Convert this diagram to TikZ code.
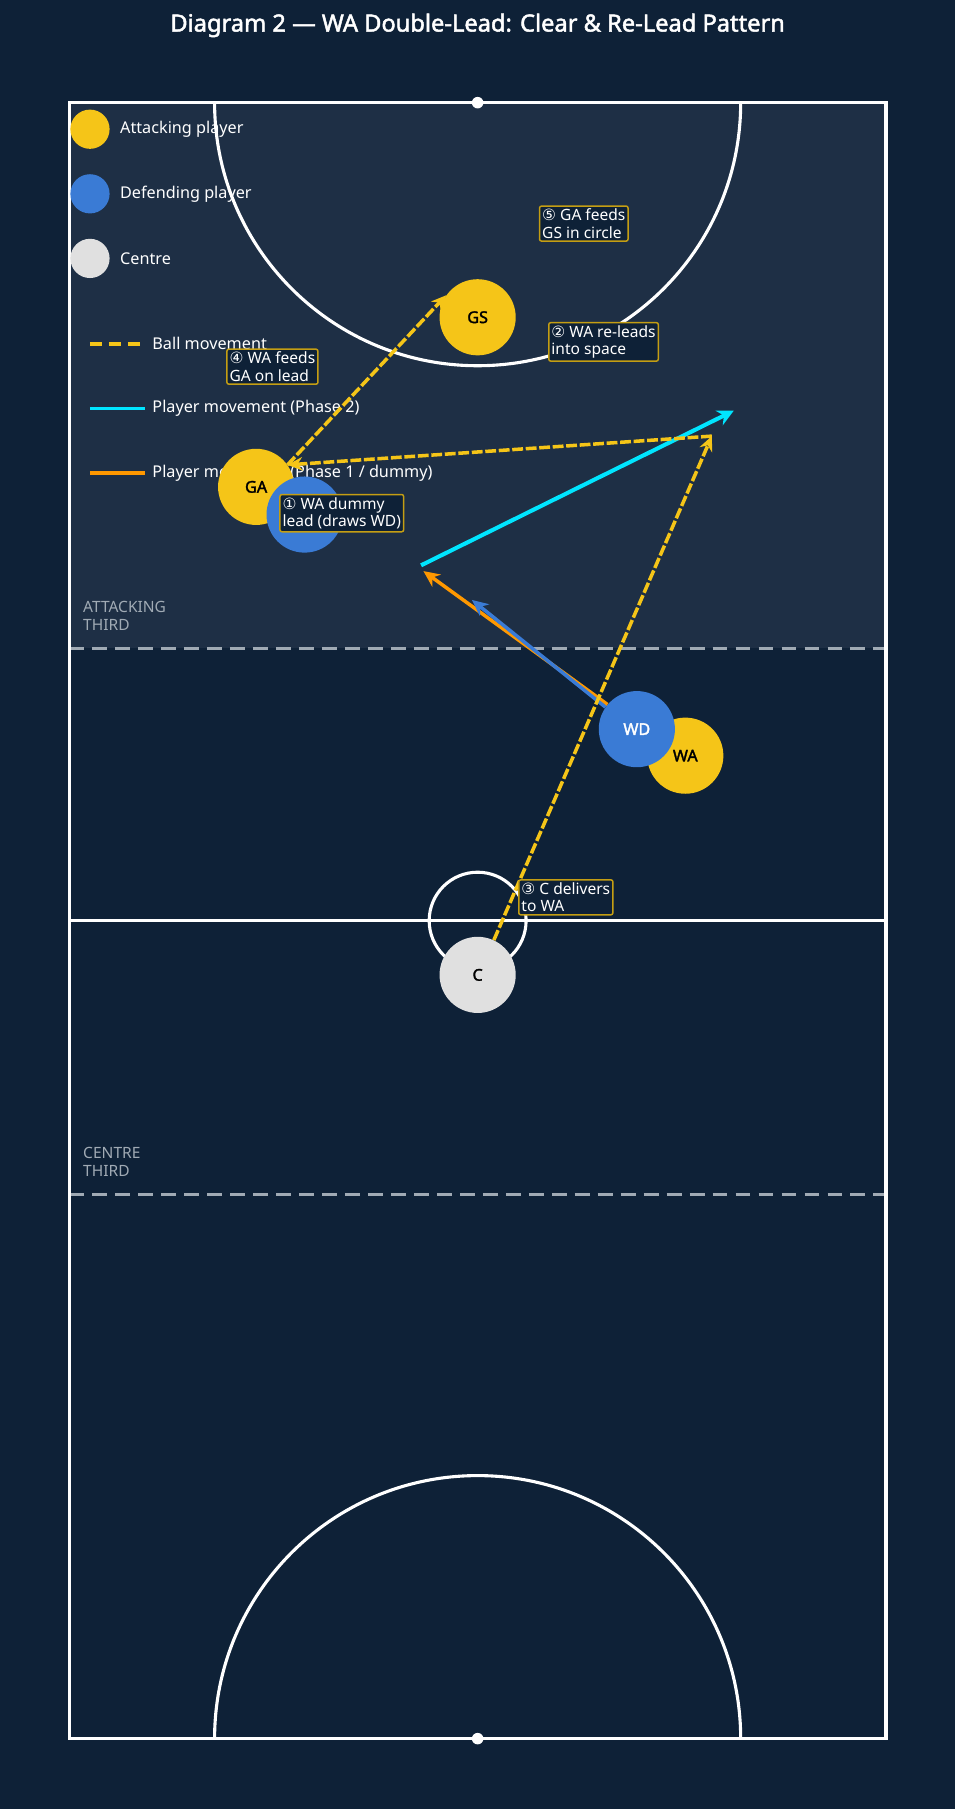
\documentclass[tikz,border=0pt]{standalone}
\usepackage{fontspec}
\setmainfont{Noto Sans}
\newfontfamily\heavy{Noto Sans}[FakeBold=2]
\newfontfamily\symfont{DejaVu Sans}
\usetikzlibrary{arrows.meta}
\definecolor{pitchbg}{HTML}{0E2137}
\definecolor{attzone}{HTML}{1E2F45}
\definecolor{attack}{HTML}{F5C518}
\definecolor{defend}{HTML}{3A7BD5}
\definecolor{centre}{HTML}{E0E0E0}
\definecolor{runcyan}{HTML}{00E5FF}
\definecolor{dummy}{HTML}{FF9800}
\definecolor{zonegrey}{HTML}{A0AAB4}
\newcommand{\cnum}[1]{{\symfont #1}}
\tikzset{
  player/.style={circle,minimum size=1.98cm,inner sep=0pt,font=\heavy\fontsize{12}{14}\selectfont},
  att/.style={player,fill=attack,text=black},
  def/.style={player,fill=defend,text=white},
  cen/.style={player,fill=centre,text=black},
  key/.style={circle,minimum size=1.02cm,inner sep=0pt},
  keytext/.style={anchor=west,text=white,font=\fontsize{12}{14}\selectfont},
  tag/.style={draw=attack!80!black,fill=pitchbg,text=white,rounded corners=1.5pt,
    font=\fontsize{11.5}{13}\selectfont,align=left,inner sep=2pt,line width=1.1pt},
  ball/.style={attack,line width=2.6pt,dash pattern=on 8pt off 2pt,-{Stealth[length=11pt,width=10pt]}},
  court/.style={white,line width=2.3pt},
}
\begin{document}
\begin{tikzpicture}[x=0.03cm,y=-0.03cm]
\fill[pitchbg] (0,0) rectangle (828,1568);
\useasboundingbox (0,0) rectangle (828,1568);
\node[text=white,font=\heavy\fontsize{17.5}{20}\selectfont] (title) at (414,22) {Diagram 2 — WA Double-Lead: Clear \& Re-Lead Pattern};

% court
\fill[attzone] (60,89) rectangle (768,562);
\draw[zonegrey,line width=2.3pt,dash pattern=on 11pt off 6pt] (60,562) -- (768,562);
\draw[zonegrey,line width=2.3pt,dash pattern=on 11pt off 6pt] (60,1035) -- (768,1035);
\draw[court] (60,798) -- (768,798);
\draw[court] (186,89) arc[start angle=180,end angle=0,radius=228];
\draw[court] (186,1507) arc[start angle=180,end angle=360,radius=228];
\draw[court] (414,798) circle[radius=42];
\draw[court] (60,89) rectangle (768,1507);
\fill[white] (414,89) circle[radius=5] (414,1507) circle[radius=5];
\node[text=zonegrey,font=\fontsize{11.5}{13}\selectfont,align=left,anchor=west] (attthird) at (68,534) {ATTACKING\\THIRD};
\node[text=zonegrey,font=\fontsize{11.5}{13}\selectfont,align=left,anchor=west] (centhird) at (68,1007) {CENTRE\\THIRD};

% legend
\node[key,fill=attack] (k1) at (78,112) {};
\node[key,fill=defend] (k2) at (78,168) {};
\node[key,fill=centre] (k3) at (78,224) {};
\node[keytext] (k1t) at (100,112) {Attacking player};
\node[keytext] (k2t) at (100,168) {Defending player};
\node[keytext] (k3t) at (100,224) {Centre};
\draw[attack,line width=2.6pt,dash pattern=on 9pt off 5pt] (78,298) -- (126,298);
\draw[runcyan,line width=2.6pt] (78,354) -- (126,354);
\draw[dummy,line width=2.6pt] (78,410) -- (126,410);
\node[keytext] (l1) at (128,298) {Ball movement};
\node[keytext] (l2) at (128,354) {Player movement (Phase 2)};
\node[keytext] (l3) at (128,410) {Player movement (Phase 1 / dummy)};

% players
\node[att] (GS) at (414,275) {GS};
\node[att] (GA) at (222,422) {GA};
\node[def] (GD) at (264,446) {GD};
\node[att] (WA) at (594,655) {WA};
\node[def] (WD) at (552,632) {WD};
\node[cen] (C) at (414,845) {C};

% movement
\coordinate (space) at (617,378);
\coordinate (dummyend) at (367,495);
\coordinate (cyanstart) at (365,490);
\coordinate (cyanend) at (636,356);
\coordinate (gdend) at (409,520);
\draw[dummy,line width=2.6pt,-{Stealth[length=12pt,width=11pt]}] (WD.140) -- (dummyend);
\draw[defend,line width=2.6pt,-{Stealth[length=12pt,width=11pt]}] (WD.145) -- (gdend);
\draw[runcyan,line width=3pt,-{Stealth[length=12pt,width=12pt]}] (cyanstart) -- (cyanend);
\draw[ball] (C.65) -- (space);
\draw[ball] (space) -- (GA.35);
\draw[ball] (GA.35) -- (GS.145);

% labels
\node[tag,anchor=north west] (n5) at (467,178) {\cnum{⑤} GA feeds\\GS in circle};
\node[tag,anchor=north west] (n2) at (475,279) {\cnum{②} WA re-leads\\into space};
\node[tag,anchor=north west] (n4) at (196,302) {\cnum{④} WA feeds\\GA on lead};
\node[tag,anchor=north west] (n1) at (242,428) {\cnum{①} WA dummy\\lead (draws WD)};
\node[tag,anchor=north west] (n3) at (449,762) {\cnum{③} C delivers\\to WA};
\end{tikzpicture}
\end{document}
